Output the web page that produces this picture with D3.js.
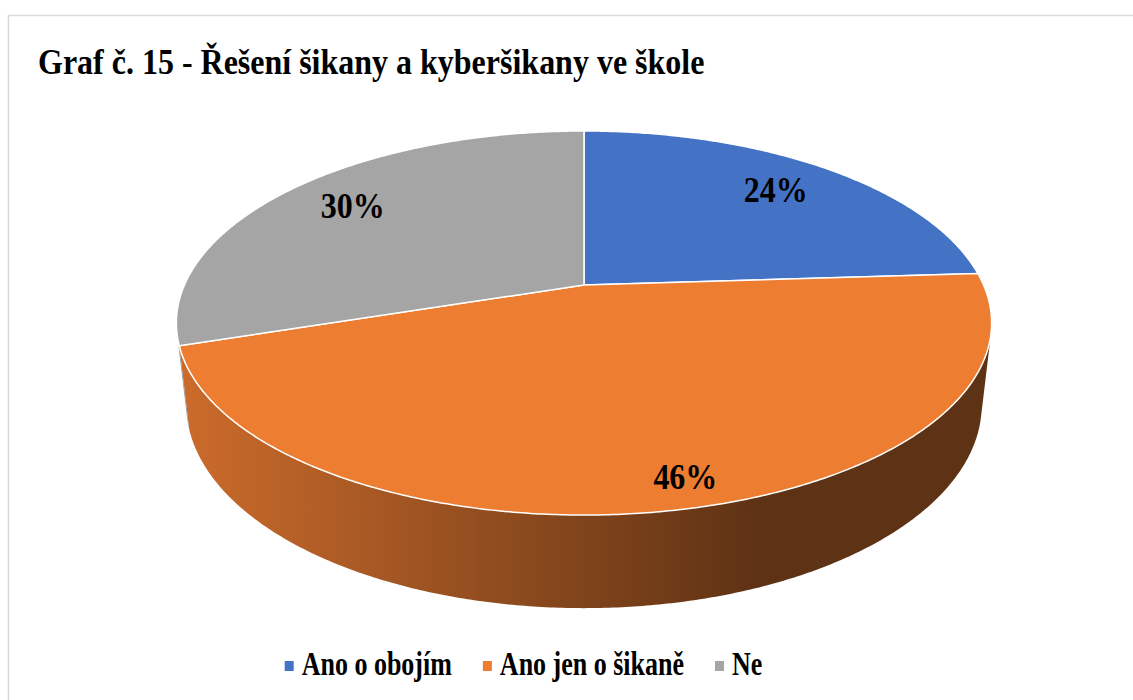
<!DOCTYPE html>
<html>
<head>
<meta charset="utf-8">
<script src="https://cdn.jsdelivr.net/npm/d3@7"></script>
<style>
  body { margin: 0; background: #fff; }
  text { font-family: "Liberation Serif", "Times New Roman", serif; font-weight: bold; fill: #000; }
</style>
</head>
<body>
<div id="chart"></div>
<script>
// data
var title = "Graf č. 15 - Řešení šikany a kyberšikany ve škole";
var categories = ["Ano o obojím", "Ano jen o šikaně", "Ne"];
var values = [24, 46, 30];
var labels = ["24%", "46%", "30%"];
var colors = ["#4472C4", "#ED7D31", "#A5A5A5"];
var sideDark = ["#26447a", "#5e3214", "#5a5a5a"];
var sideLight = ["#3f68b3", "#cb6b2b", "#939393"];

var width = 1133, height = 700;

var svg = d3.select("#chart").append("svg")
    .attr("width", width)
    .attr("height", height);

// chart area border
svg.append("rect")
    .attr("x", 8.5).attr("y", 15.5)
    .attr("width", 1300).attr("height", 900)
    .attr("fill", "none")
    .attr("stroke", "#d9d9d9")
    .attr("stroke-width", 1.5);

// the text in the picture is drawn a bit taller than wide
function tallText(sel, x, y, size, str, anchor, stretch) {
  return sel.append("text")
      .attr("transform", "translate(" + x + "," + y + ") scale(1," + (stretch || 1.15) + ")")
      .attr("text-anchor", anchor || "start")
      .style("font-size", size + "px")
      .text(str);
}

tallText(svg, 38, 74, 32, title);

// simple perspective camera looking down on a unit disk
var cx = 584, cy = 285;
var tilt = 27.5 * Math.PI / 180, dist = 4.48, focal = 1790, depth = 0.2325;
var sn = Math.sin(tilt), cs = Math.cos(tilt);

// a: angle clockwise from the back, r: radius (0..1), h: 0 = top face, 1 = bottom rim
function project(a, r, h) {
  var X = r * Math.sin(a), Z = -r * Math.cos(a), Y = -h * depth;
  var dy = Y - dist * sn, dz = Z - dist * cs;
  var yc = dy * cs - dz * sn;
  var zc = -dy * sn - dz * cs;
  return [cx + focal * X / zc, cy - focal * yc / zc];
}

function arcPoints(a0, a1, r, h) {
  var n = Math.max(2, Math.ceil(Math.abs(a1 - a0) / (Math.PI / 360)));
  return d3.range(n + 1).map(function(i) { return project(a0 + (a1 - a0) * i / n, r, h); });
}

var pie = d3.pie().sort(null).value(function(d) { return d; });
var arcs = pie(values);
var line = d3.line();

// side wall is visible where its normal faces the camera
var visMin = Math.acos(-1 / (dist * cs)), visMax = 2 * Math.PI - visMin;
var leftX = project(1.5 * Math.PI, 1, 0)[0], rightX = project(0.5 * Math.PI, 1, 0)[0];

var defs = svg.append("defs");
arcs.forEach(function(d, i) {
  var g = defs.append("linearGradient")
      .attr("id", "side" + i)
      .attr("gradientUnits", "userSpaceOnUse")
      .attr("x1", leftX).attr("x2", leftX + (rightX - leftX) * 0.72)
      .attr("y1", 0).attr("y2", 0);
  g.append("stop").attr("offset", "0%").attr("stop-color", sideLight[i]);
  g.append("stop").attr("offset", "100%").attr("stop-color", sideDark[i]);
});

var sideG = svg.append("g");
arcs.forEach(function(d, i) {
  var a0 = Math.max(d.startAngle, visMin), a1 = Math.min(d.endAngle, visMax);
  if (a0 >= a1) return;
  var pts = arcPoints(a0, a1, 1, 0).concat(arcPoints(a1, a0, 1, 1));
  sideG.append("path")
      .attr("d", line(pts) + "Z")
      .attr("fill", "url(#side" + i + ")");
});

var faceG = svg.append("g");
arcs.forEach(function(d, i) {
  var pts = [project(0, 0, 0)].concat(arcPoints(d.startAngle, d.endAngle, 1, 0));
  faceG.append("path")
      .attr("d", line(pts) + "Z")
      .attr("fill", colors[i])
      .attr("stroke", "#fff")
      .attr("stroke-width", 1.5)
      .attr("stroke-linejoin", "round");
});

// data labels
arcs.forEach(function(d, i) {
  var mid = (d.startAngle + d.endAngle) / 2;
  var front = d.startAngle < Math.PI && d.endAngle > Math.PI;
  var p = front ? project(mid - 0.05, 0.89, 0) : project(mid, 0.78, 0);
  tallText(svg, p[0], p[1] + 11, 32, labels[i], "middle");
});

// legend
var legend = svg.append("g");
var x = 0;
categories.forEach(function(c, i) {
  var item = legend.append("g").attr("transform", "translate(" + x + ",0)");
  item.append("rect")
      .attr("x", 0).attr("y", 661)
      .attr("width", 9).attr("height", 10)
      .attr("fill", colors[i]);
  var t = tallText(item, 17, 675, 26, c, "start", 1.3);
  x += 17 + t.node().getComputedTextLength() + 31;
});
var total = x - 31;
legend.attr("transform", "translate(" + (523.5 - total / 2) + ",0)");
</script>
</body>
</html>
